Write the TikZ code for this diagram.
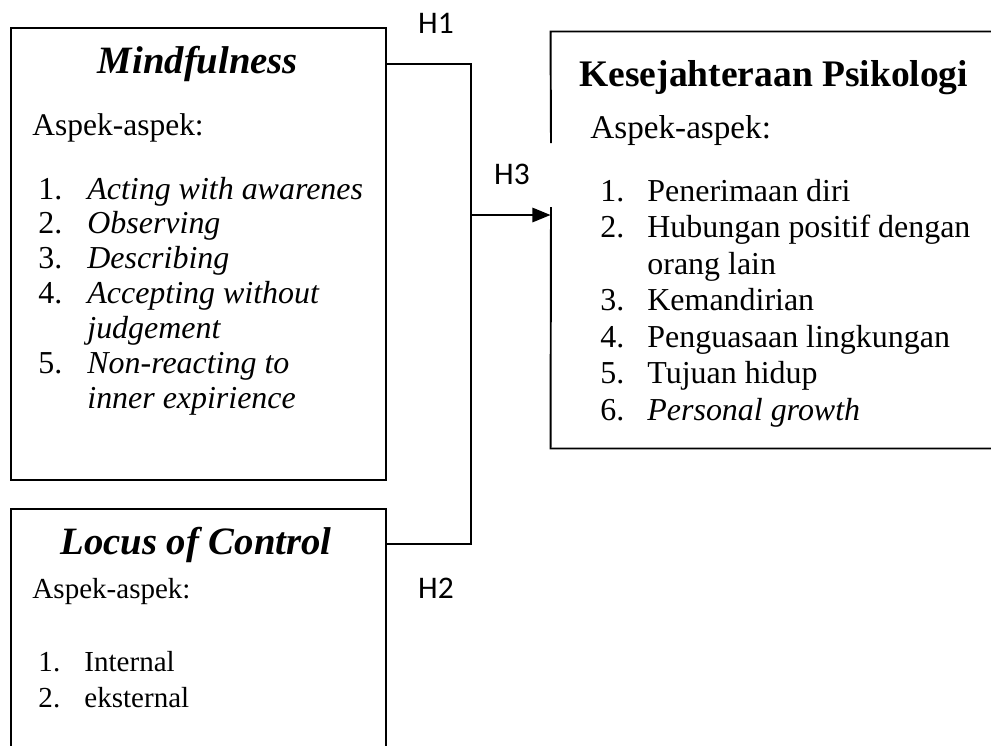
\documentclass[tikz,border=0pt]{standalone}
\usepackage{fontspec}
\setmainfont{Liberation Serif}
\newfontfamily\calibri{Carlito}
\usetikzlibrary{arrows.meta,fit}

\tikzset{
  box/.style={draw, line width=0.8pt, inner sep=0pt},
  boxtitle/.style={font=\fontsize{16}{19}\selectfont\bfseries\itshape, inner sep=0pt, anchor=base},
  aspek/.style={font=\fontsize{12}{14.4}\selectfont, inner sep=0pt, anchor=base west},
  itemlist/.style={font=\fontsize{12}{14.4}\selectfont, inner sep=0pt, anchor=base west},
  hyp/.style={font=\calibri\fontsize{13}{15}\selectfont, inner sep=0pt},
  link/.style={line width=0.6pt},
}

\begin{document}
\begin{tikzpicture}[x=0.4132pt, y=-0.4132pt]
    \useasboundingbox (0,0) rectangle (991,745);
    \clip (0,0) rectangle (991,745);

    % boxes
    \node[box, fit={(11,28) (386,480)}] (mind) {};
    \node[box, fit={(11,509) (386,800)}] (locus) {};
    \node[inner sep=0pt, fit={(551,32) (1040,448)}] (kes) {};
    \coordinate (gaptop) at (551,143);
    \coordinate (gapbot) at (551,207);
    \draw[line width=0.8pt] (gaptop) -- (kes.north west) -- (kes.north east);
    \draw[line width=0.8pt] (gapbot) -- (kes.south west) -- (kes.south east);

    % Mindfulness
    \node[boxtitle] (mindtitle) at (198,73) {Mindfulness};
    \node[aspek, font=\fontsize{13}{15}\selectfont] (mindaspek) at (32,135) {Aspek-aspek:};
    \node[itemlist, font=\fontsize{13.2}{14.4}\selectfont] (minditems) at (38,199) {%
        \begin{tabular}[t]{@{}p{20.2pt}@{}l@{}}
        1. & \textit{Acting with awarenes}\\
        2. & \textit{Observing}\\
        3. & \textit{Describing}\\
        4. & \textit{Accepting without}\\
           & \textit{judgement}\\
        5. & \textit{Non-reacting to}\\
           & \textit{inner expirience}
        \end{tabular}};

    % Locus of Control
    \node[boxtitle] (locustitle) at (196,554) {Locus of Control};
    \node[aspek] (locusaspek) at (32,598) {Aspek-aspek:};
    \node[itemlist, font=\fontsize{12}{14.9}\selectfont] (locusitems) at (38,671) {%
        \begin{tabular}[t]{@{}p{19pt}@{}l@{}}
        1. & Internal\\
        2. & eksternal
        \end{tabular}};

    % Kesejahteraan Psikologi
    \node[boxtitle, font=\fontsize{15.5}{19}\selectfont\bfseries, anchor=base west] (kestitle) at (579,86) {Kesejahteraan Psikologi};
    \node[aspek, font=\fontsize{13.7}{16}\selectfont] (kesaspek) at (590,138) {Aspek-aspek:};
    \node[itemlist, font=\fontsize{13.2}{15.1}\selectfont] (kesitems) at (600,201) {%
        \begin{tabular}[t]{@{}p{19.4pt}@{}l@{}}
        1. & Penerimaan diri\\
        2. & Hubungan positif dengan\\
           & orang lain\\
        3. & Kemandirian\\
        4. & Penguasaan lingkungan\\
        5. & Tujuan hidup\\
        6. & \textit{Personal growth}
        \end{tabular}};

    % connectors
    \coordinate (h1) at (471,64);
    \coordinate (h2) at (471,544);
    \coordinate (join) at (471,215);
    \draw[link] (mind.east |- h1) -- (h1) -- (h2) -- (locus.east |- h2);
    \draw[link, -{Triangle[length=7.5pt,width=6pt]}] (join) -- (kes.west |- join);

    \node[hyp] (H1) at (436,23) {H1};
    \node[hyp] (H3) at (512,174) {H3};
    \node[hyp] (H2) at (436,588) {H2};
\end{tikzpicture}
\end{document}
